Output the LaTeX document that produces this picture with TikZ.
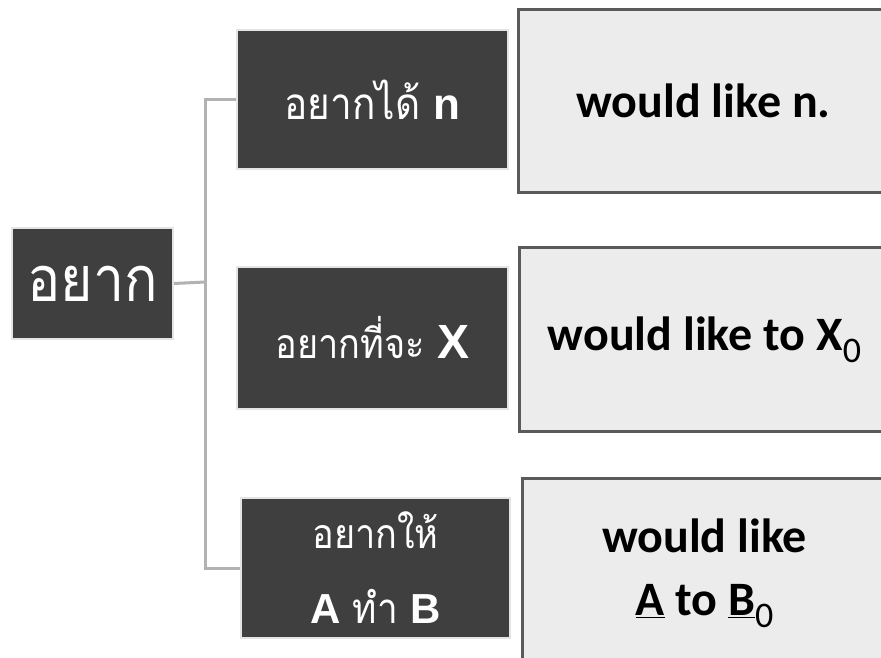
\documentclass[tikz,border=0pt]{standalone}
\usepackage{fontspec}
\setmainfont{Carlito}
\newfontfamily\thai[Script=Thai,FakeStretch=0.88]{Loma}
\newfontfamily\varfont{Liberation Sans}
\newcommand\termvar[1]{{\varfont\bfseries #1}}
\newcommand\lowzero{\raisebox{-12pt}{\fontsize{36}{36}\selectfont\mdseries 0}}
\usetikzlibrary{positioning}

\definecolor{darkbox}{HTML}{3F3F3F}
\definecolor{darkrim}{HTML}{E4E4E4}
\definecolor{lightbox}{HTML}{ECECEC}
\definecolor{lightrim}{HTML}{5A5A5A}
\definecolor{linkgray}{HTML}{B2B2B2}

\tikzset{
  term/.style={fill=darkbox,draw=darkrim,line width=2pt,text=white,
    align=center,inner sep=0pt,font=\thai},
  gloss/.style={fill=lightbox,draw=lightrim,line width=3pt,
    align=center,inner sep=0pt,anchor=north west,font=\bfseries},
  link/.style={draw=linkgray,line width=3pt}
}

\begin{document}
\begin{tikzpicture}[x=1pt,y=-1pt]
\useasboundingbox (0,0) rectangle (881,657);
\clip (0,0) rectangle (881,657);
% root word
\node[term,minimum width=161pt,minimum height=111pt,font=\thai\fontsize{63}{66}\selectfont]
  (root) at (92.5,283.5) {อยาก};
% the three uses
\node[term,minimum width=271pt,minimum height=139pt,font=\thai\fontsize{44}{48}\selectfont]
  (c1) at (372.5,99.5) {อยากได้ {\fontsize{44}{44}\selectfont\termvar{n}}};
\node[term,minimum width=271pt,minimum height=142pt,font=\thai\fontsize{41}{44}\selectfont]
  (c2) at (372.5,338) {อยากที่จะ {\fontsize{48}{48}\selectfont\termvar{X}}};
\node[term,minimum width=269pt,minimum height=140pt,font=\thai\fontsize{41}{75}\selectfont]
  (c3) at (375.5,568) {อยากให้\\{\fontsize{42}{42}\selectfont\termvar{A} ทำ \termvar{B}}};
% glosses
\node[gloss,minimum width=370pt,minimum height=183pt,font=\bfseries\fontsize{48}{50}\selectfont]
  (d1) at (517,8) {would like n.};
\node[gloss,minimum width=370pt,minimum height=184pt,font=\bfseries\fontsize{48}{50}\selectfont]
  (d2) at (518,246) {would like to X\lowzero};
\node[gloss,minimum width=364pt,minimum height=190pt,font=\bfseries\fontsize{48}{63}\selectfont]
  (d3) at (521,477) {would like\\\underline{A} to \underline{B}\lowzero};
% connectors
\coordinate (trunk) at (205,282);
\draw[link] (root.east) -- (trunk);
\draw[link] (c1.west) -| (trunk) |- (c3.west);
\end{tikzpicture}
\end{document}
